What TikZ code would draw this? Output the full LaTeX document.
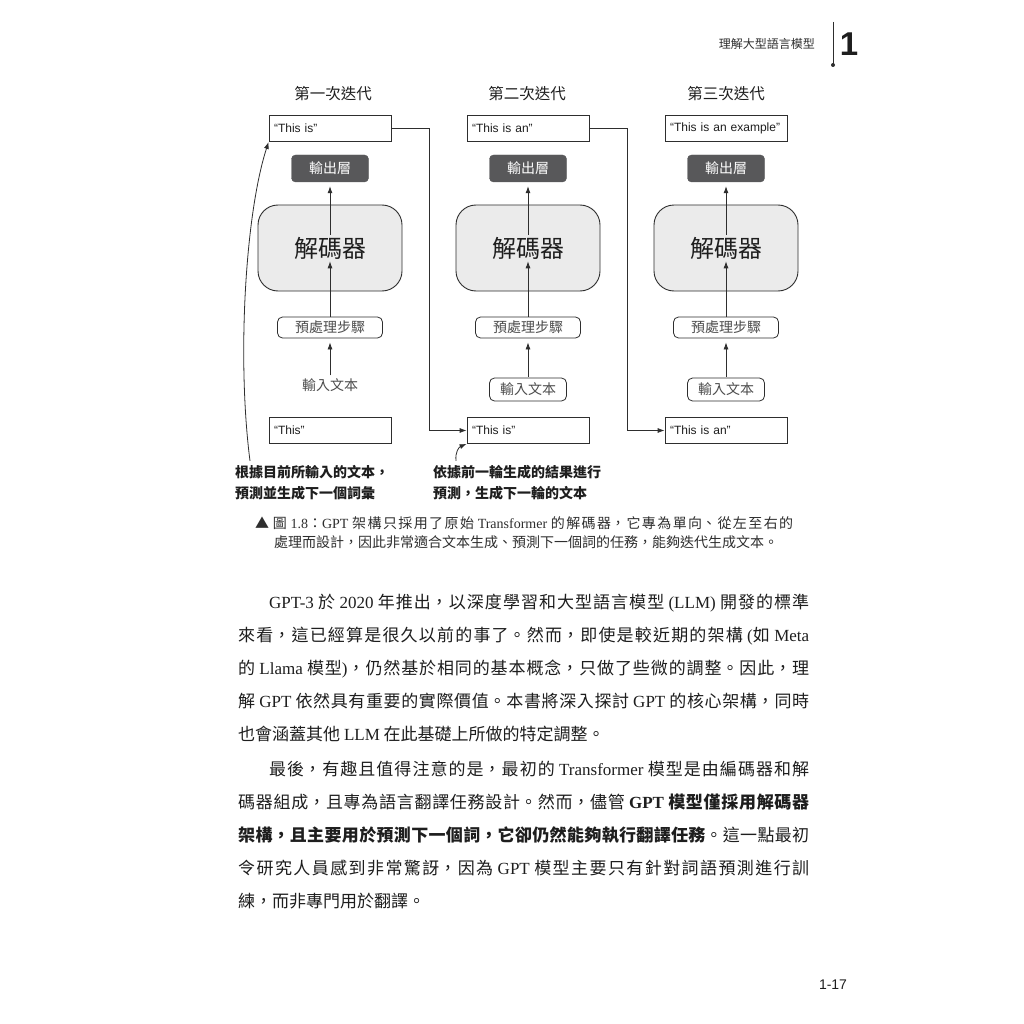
\documentclass[tikz,border=0pt]{standalone}
\usepackage{fontspec}
\usetikzlibrary{arrows.meta}
\newfontfamily\cjk{Noto Sans CJK TC}
\newfontfamily\serif{Liberation Serif}
\newfontfamily\sans{Liberation Sans}
\newcommand\T[1]{{\serif #1}}
\newcommand\fsz[1]{\fontsize{#1}{#1}\selectfont}
\newcommand\jline[2]{\parbox[b]{#1pt}{\XeTeXlinebreaklocale "zh"\XeTeXlinebreakskip=0pt plus 4pt\parfillskip=0pt\tolerance=10000\noindent #2}}
\definecolor{linec}{HTML}{2E2E2E}
\definecolor{darkb}{HTML}{58585A}
\definecolor{decfill}{HTML}{EBEBEB}
\definecolor{txtg}{HTML}{4D4D4D}
\definecolor{ink}{HTML}{1E1E1E}
\begin{document}
\begin{tikzpicture}[x=1pt,y=-1pt,
  tbox/.style={draw=linec, line width=0.8pt, fill=white, minimum height=26pt, text width=112pt, inner xsep=5pt, inner ysep=0pt, align=left, font=\sans\fsz{12}, text=ink},
  outl/.style={draw=darkb, fill=darkb, rounded corners=4pt, minimum width=77pt, minimum height=27pt, inner sep=0pt, text=white, font=\cjk\fsz{14}},
  decb/.style={draw=linec, line width=0.9pt, fill=decfill, rounded corners=20pt, minimum width=144pt, minimum height=86pt, inner sep=0pt},
  dtext/.style={font=\cjk\fsz{24}, inner sep=2pt, text=ink},
  preb/.style={draw=linec, line width=0.8pt, fill=white, rounded corners=5pt, minimum width=105pt, minimum height=21pt, inner sep=0pt, font=\cjk\fsz{14}, text=txtg},
  inpb/.style={draw=linec, line width=0.8pt, fill=white, rounded corners=5pt, minimum width=77pt, minimum height=23pt, inner sep=0pt, font=\cjk\fsz{14}, text=txtg},
  ttl/.style={font=\cjk\fsz{15.5}, text=ink, inner sep=0pt},
  arr/.style={draw=linec, line width=0.8pt, -{Latex[length=7pt,width=5pt]}},
  ann/.style={font=\cjk\bfseries\fsz{14}, text=ink, inner sep=0pt, anchor=base west},
  capt/.style={font=\cjk\fsz{14}, text=linec, inner sep=0pt, anchor=base west},
  body/.style={font=\cjk\fsz{17}, text=ink, inner sep=0pt, anchor=base west}
]
\useasboundingbox[fill=white] (0,0) rectangle (1024,1024);

% header
\node[font=\cjk\fsz{12}, text=linec, inner sep=0pt, anchor=base east] (hdr) at (815,48.6) {理解大型語言模型};
\draw[linec, line width=1pt] (833,22) -- (833,64);
\fill[linec] (833,65) circle (2);
\node[font=\sans\bfseries\fsz{33}, text=ink, inner sep=0pt] (chap) at (849,44) {1};

% titles
\node[ttl] (h1) at (333,94) {第一次迭代};
\node[ttl] (h2) at (527,94) {第二次迭代};
\node[ttl] (h3) at (726,94) {第三次迭代};

% top boxes
\node[tbox] (t1) at (330,128.5) {“This is”};
\node[tbox] (t2) at (528,128.5) {“This is an”};
\node[tbox] (t3) at (726,128.5) {“This is an example”};

% output layers
\node[outl] (o1) at (330,168.5) {輸出層};
\node[outl] (o2) at (528,168.5) {輸出層};
\node[outl] (o3) at (726,168.5) {輸出層};

% decoders
\node[decb] (d1) at (330,248) {};
\node[decb] (d2) at (528,248) {};
\node[decb] (d3) at (726,248) {};
\node[dtext] (dt1) at (330,248) {解碼器};
\node[dtext] (dt2) at (528,248) {解碼器};
\node[dtext] (dt3) at (726,248) {解碼器};

% preprocessing
\node[preb] (p1) at (330,327.5) {預處理步驟};
\node[preb] (p2) at (528,327.5) {預處理步驟};
\node[preb] (p3) at (726,327.5) {預處理步驟};

% input text
\node[font=\cjk\fsz{14}, text=txtg, inner sep=2pt] (in1) at (330,385) {輸入文本};
\node[inpb] (in2) at (528,389.5) {輸入文本};
\node[inpb] (in3) at (726,389.5) {輸入文本};

% bottom boxes
\node[tbox] (b1) at (330,430.5) {“This”};
\node[tbox] (b2) at (528,430.5) {“This is”};
\node[tbox] (b3) at (726,430.5) {“This is an”};

% vertical arrows
\foreach \i in {1,2,3}{
  \draw[arr, shorten >=4pt] (dt\i.north) -- (o\i.south);
  \draw[arr] (p\i.north) -- (dt\i.south);
  \draw[arr, shorten >=4pt, shorten <=1pt] (in\i.north) -- (p\i.south);
}

% feedback connectors
\draw[arr] (t1.east) -- ++(38,0) |- (b2.west);
\draw[arr] (t2.east) -- ++(38,0) |- (b3.west);

% annotations
\node[ann] (a1) at (235,477.3) {根據目前所輸入的文本，};
\node[ann] (a1b) at (235,498.3) {預測並生成下一個詞彙};
\node[ann] (a2) at (433,477.3) {依據前一輪生成的結果進行};
\node[ann] (a2b) at (433,498.3) {預測，生成下一輪的文本};
\draw[arr] ([xshift=15pt,yshift=4pt]a1.north west) .. controls (237,360) and (245,215) .. (t1.south west);
\draw[arr] ([xshift=23pt,yshift=4pt]a2.north west) .. controls (455,452) and (459,447) .. (b2.south west);

% caption
\node[capt] (c1) at (255,528.3) {\jline{538}{▲ 圖 \T{1.8}：\T{GPT} 架構只採用了原始 \T{Transformer} 的解碼器，它專為單向、從左至右的}};
\node[capt] (c2) at (274,547.3) {處理而設計，因此非常適合文本生成、預測下一個詞的任務，能夠迭代生成文本。};

% paragraph 1
\node[body] (p1a) at (269,608.5) {\jline{540}{\T{GPT-3} 於 \T{2020} 年推出，以深度學習和大型語言模型 \T{(LLM)} 開發的標準}};
\node[body] (p1b) at (238,641.5) {\jline{571}{來看，這已經算是很久以前的事了。然而，即使是較近期的架構 \T{(}如 \T{Meta}}};
\node[body] (p1c) at (238,674.5) {\jline{571}{的 \T{Llama} 模型\T{)}，仍然基於相同的基本概念，只做了些微的調整。因此，理}};
\node[body] (p1d) at (238,707.5) {\jline{571}{解 \T{GPT} 依然具有重要的實際價值。本書將深入探討 \T{GPT} 的核心架構，同時}};
\node[body] (p1e) at (238,740.5) {也會涵蓋其他 \T{LLM} 在此基礎上所做的特定調整。};

% paragraph 2
\node[body] (p2a) at (269,775.5) {\jline{540}{最後，有趣且值得注意的是，最初的 \T{Transformer} 模型是由編碼器和解}};
\node[body] (p2b) at (238,808.5) {\jline{571}{碼器組成，且專為語言翻譯任務設計。然而，儘管 \textbf{\T{GPT} 模型僅採用解碼器}}};
\node[body] (p2c) at (238,841.5) {\jline{571}{\textbf{架構，且主要用於預測下一個詞，它卻仍然能夠執行翻譯任務}。這一點最初}};
\node[body] (p2d) at (238,874.5) {\jline{571}{令研究人員感到非常驚訝，因為 \T{GPT} 模型主要只有針對詞語預測進行訓}};
\node[body] (p2e) at (238,907.5) {練，而非專門用於翻譯。};

% page number
\node[font=\sans\fsz{14}, text=ink, inner sep=0pt] (pg) at (833,985) {1-17};
\end{tikzpicture}
\end{document}
